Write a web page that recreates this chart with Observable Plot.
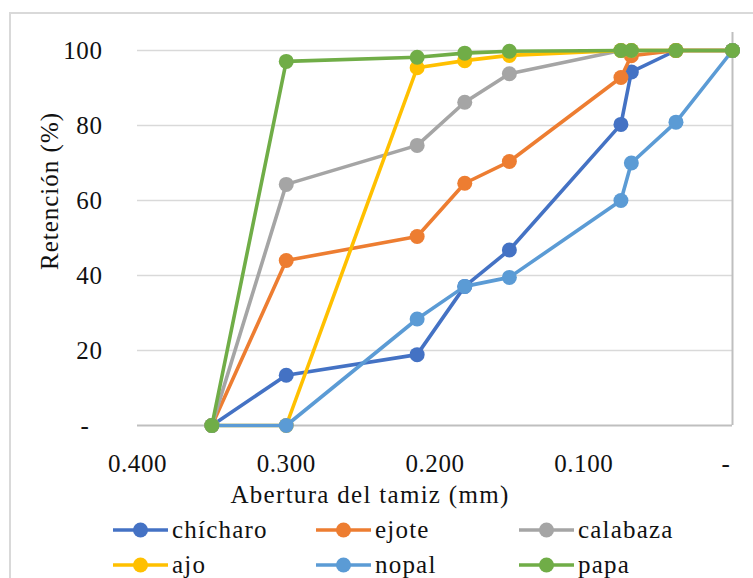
<!DOCTYPE html>
<html><head><meta charset="utf-8">
<script src="https://cdn.jsdelivr.net/npm/d3@7"></script>
<script src="https://cdn.jsdelivr.net/npm/@observablehq/plot@0.6"></script>
<style>
body{margin:0;background:#fff;}
#wrap{position:relative;width:753px;height:578px;overflow:hidden;font-family:"Liberation Serif",serif;background:#fff;}
#frame{position:absolute;left:9px;top:12px;width:800px;height:650px;border:2px solid #d9d9d9;box-sizing:border-box;}
#chart{position:absolute;left:0;top:0;}
.item{position:absolute;display:flex;align-items:center;font-size:25px;color:#111;letter-spacing:1.2px;white-space:nowrap;}
.item svg{margin-right:4px;}
</style></head>
<body><div id="wrap"><div id="frame"></div><div id="chart"></div></div>
<script>
const sizes = [0.350, 0.300, 0.212, 0.180, 0.150, 0.075, 0.068, 0.038, 0];
const seriesNames = ["chícharo", "ejote", "calabaza", "ajo", "nopal", "papa"];
const colors = ["#4472C4", "#ED7D31", "#A5A5A5", "#FFC000", "#5B9BD5", "#70AD47"];
const chicharo = [0, 13.4, 18.9, 37.1, 46.8, 80.3, 94.3, 100, 100];
const ejote    = [0, 44.0, 50.4, 64.6, 70.4, 92.8, 98.6, 100, 100];
const calabaza = [0, 64.3, 74.7, 86.2, 93.8, 100, 100, 100, 100];
const ajo      = [0, 0, 95.4, 97.3, 98.7, 100, 100, 100, 100];
const nopal    = [0, 0, 28.4, 37.1, 39.5, 60.0, 70.0, 80.9, 100];
const papa     = [0, 97.1, 98.2, 99.3, 99.8, 100, 100, 100, 100];
const yTicks = [0, 20, 40, 60, 80, 100];
const xTicks = [0.4, 0.3, 0.2, 0.1, 0];
const xTitle = "Abertura del tamiz (mm)";
const yTitle = "Retención (%)";

const allValues = [chicharo, ejote, calabaza, ajo, nopal, papa];
const data = seriesNames.map((name, i) => sizes.map((s, j) => ({series: name, size: s, value: allValues[i][j]})));

const seriesMarks = data.flatMap(rows => [
  Plot.line(rows, {x: "size", y: "value", stroke: "series", strokeWidth: 3.6}),
  Plot.dot(rows, {x: "size", y: "value", fill: "series", r: 7.5, stroke: "none"})
]);

const chart = Plot.plot({
  width: 753,
  height: 515,
  marginLeft: 137,
  marginRight: 21,
  marginTop: 32,
  marginBottom: 90,
  style: {fontFamily: "'Liberation Serif', serif", fontSize: "25px", color: "#111", background: "transparent", letterSpacing: "0.6px", overflow: "visible"},
  x: {domain: [0.4, 0], ticks: xTicks},
  y: {domain: [0, 104.8], ticks: yTicks},
  color: {domain: seriesNames, range: colors},
  marks: [
    Plot.ruleY(yTicks.filter(d => d > 0), {stroke: "#d9d9d9", strokeWidth: 1.6}),
    Plot.ruleY([0], {stroke: "#bfbfbf", strokeWidth: 2}),
    Plot.ruleX([0], {stroke: "#bfbfbf", strokeWidth: 2}),
    Plot.axisX({ticks: xTicks, tickSize: 0, tickPadding: 29, tickFormat: d => d === 0 ? "-\u2007" : d3.format(".3f")(d), label: null}),
    Plot.axisY({ticks: yTicks, tickSize: 0, tickPadding: 35, tickFormat: d => d === 0 ? "-\u2007" : String(d), label: null}),
    ...seriesMarks,
    Plot.text([xTitle], {frameAnchor: "bottom", textAnchor: "middle", lineAnchor: "middle", dx: -65, dy: 69, text: d => d, fill: "#111"}),
    Plot.text([yTitle], {frameAnchor: "left", textAnchor: "middle", lineAnchor: "middle", rotate: -90, dx: -88, dy: -38, text: d => d, fill: "#111"})
  ]
});
chart.querySelectorAll("text").forEach(t => {
  if (t.textContent === xTitle) t.style.letterSpacing = "1.3px";
  if (t.textContent === yTitle) t.style.letterSpacing = "1px";
});
document.getElementById("chart").appendChild(chart);

const wrap = document.getElementById("wrap");
const cols = [113, 316, 519];
const rows = [530, 565];
seriesNames.forEach((name, i) => {
  const el = document.createElement("div");
  el.className = "item";
  el.style.left = cols[i % 3] + "px";
  el.style.top = (rows[Math.floor(i / 3)] - 18) + "px";
  el.style.height = "36px";
  el.innerHTML = `<svg width="55" height="20"><line x1="0" y1="10" x2="55" y2="10" stroke="${colors[i]}" stroke-width="3.6"/><circle cx="27.5" cy="10" r="7.5" fill="${colors[i]}"/></svg><span>${name}</span>`;
  wrap.appendChild(el);
});
</script></body></html>
